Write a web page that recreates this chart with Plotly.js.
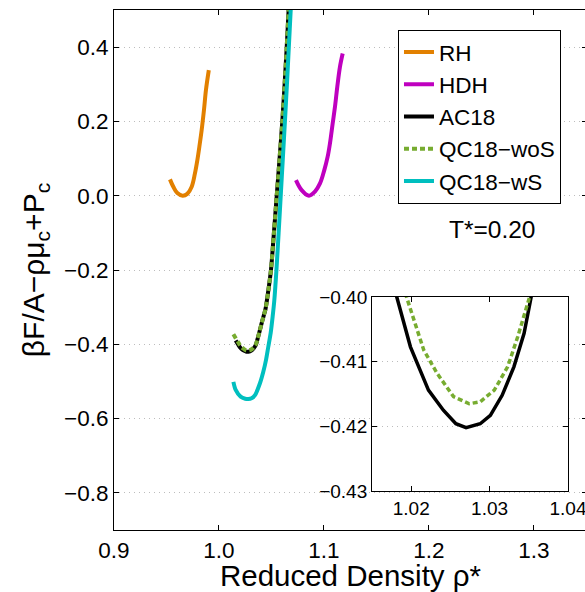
<!DOCTYPE html>
<html>
<head>
<meta charset="utf-8">
<script src="https://cdn.plot.ly/plotly-3.0.1.min.js"></script>
<style>
html,body{margin:0;padding:0;overflow:hidden;background:#fff;}
#chart{width:587px;height:592px;}
</style>
</head>
<body>
<div id="chart"></div>
<script>
// ---- data ----
var rhX = [0.9533,0.9565,0.9603,0.9654,0.9698,0.9740,0.9771,0.9794,0.9813,0.9835,0.9857,0.9876,0.9903];
var rhY = [0.044,0.024,0.007,0.000,0.005,0.024,0.060,0.096,0.132,0.177,0.231,0.285,0.338];

var hdhX = [1.0733,1.0787,1.0857,1.0914,1.0962,1.1003,1.1035,1.1057,1.1083,1.1105,1.1127,1.1152,1.1178];
var hdhY = [0.042,0.015,0.000,0.011,0.033,0.069,0.105,0.141,0.195,0.240,0.294,0.347,0.383];

var ac18X = [1.0159,1.0181,1.0199,1.0222,1.0241,1.0257,1.0270,1.0288,1.0301,1.0316,1.0331,1.0344,1.0353,1.0368,1.0385,1.0403,1.0422,1.0443,1.0470,1.0495,1.0523,1.0550,1.0577,1.0603,1.0625,1.0645,1.0663,1.0680];
var ac18Y = [-0.390,-0.400,-0.4077,-0.4144,-0.4175,-0.4196,-0.4202,-0.4196,-0.4183,-0.4152,-0.4108,-0.4056,-0.400,-0.385,-0.367,-0.347,-0.327,-0.305,-0.255,-0.200,-0.100,0.000,0.100,0.200,0.300,0.400,0.500,0.600];

var qcwoX = [1.0137,1.0160,1.0180,1.0194,1.0216,1.0233,1.0254,1.0274,1.0288,1.0306,1.0323,1.0336,1.0351,1.0368,1.0385,1.0403,1.0422,1.0443,1.0470,1.0495,1.0523,1.0550,1.0577,1.0603,1.0625,1.0645,1.0663,1.0680];
var qcwoY = [-0.373,-0.384,-0.393,-0.400,-0.4082,-0.4118,-0.4154,-0.4165,-0.4162,-0.4144,-0.4108,-0.4061,-0.400,-0.385,-0.367,-0.347,-0.327,-0.305,-0.255,-0.200,-0.100,0.000,0.100,0.200,0.300,0.400,0.500,0.600];

var qcwsX = [1.0137,1.0159,1.0206,1.0250,1.0279,1.0310,1.0343,1.0390,1.0422,1.0448,1.0470,1.0492,1.0511,1.0527,1.0547,1.0568,1.0588,1.0608,1.0628,1.0647,1.0665,1.0683,1.0700];
var qcwsY = [-0.501,-0.523,-0.541,-0.5465,-0.5474,-0.5455,-0.537,-0.505,-0.474,-0.442,-0.406,-0.370,-0.325,-0.281,-0.200,-0.100,0.000,0.100,0.200,0.300,0.400,0.500,0.600];

var seriesNames = ['RH','HDH','AC18','QC18\u2212woS','QC18\u2212wS'];
var annotationText = 'T*=0.20';

var FONT = 'Liberation Sans, Arial, Helvetica, sans-serif';
var cOrange = 'rgb(226,128,0)', cMag = 'rgb(191,0,191)', cBlack = 'rgb(0,0,0)',
    cGreen = 'rgb(119,172,48)', cCyan = 'rgb(0,191,191)';

var traces = [
  {x: rhX, y: rhY, name: seriesNames[0], mode: 'lines', line: {color: cOrange, width: 4, shape: 'spline', smoothing: 1}},
  {x: hdhX, y: hdhY, name: seriesNames[1], mode: 'lines', line: {color: cMag, width: 4, shape: 'spline', smoothing: 1}},
  {x: ac18X, y: ac18Y, name: seriesNames[2], mode: 'lines', line: {color: cBlack, width: 4, shape: 'spline', smoothing: 0.8}},
  {x: qcwoX, y: qcwoY, name: seriesNames[3], mode: 'lines', line: {color: cGreen, width: 4, dash: '5px,3px', shape: 'spline', smoothing: 0.8}},
  {x: qcwsX, y: qcwsY, name: seriesNames[4], mode: 'lines', line: {color: cCyan, width: 4, shape: 'spline', smoothing: 0.8}},
  // inset
  {x: ac18X, y: ac18Y, xaxis: 'x2', yaxis: 'y2', showlegend: false, mode: 'lines', line: {color: cBlack, width: 3.5}},
  {x: qcwoX, y: qcwoY, xaxis: 'x2', yaxis: 'y2', showlegend: false, mode: 'lines', line: {color: cGreen, width: 3.5, dash: '5px,3px'}}
];

var axisCommon = {
  showline: true, linecolor: '#000', linewidth: 1, mirror: 'ticks',
  ticks: 'inside', ticklen: 5, tickcolor: '#000', tickwidth: 1,
  zeroline: false, fixedrange: true
};
var gridStyle = {showgrid: true, gridcolor: '#bdbdbd', griddash: '1px,4px', gridwidth: 1};

var layout = {
  width: 587, height: 592,
  margin: {l: 114, r: 0, t: 10, b: 62},
  paper_bgcolor: '#fff', plot_bgcolor: '#fff',
  font: {family: FONT, color: '#000', size: 22.5},
  showlegend: true,
  legend: {
    x: 0.6004, y: 0.962, xanchor: 'left', yanchor: 'top',
    bgcolor: '#fff', bordercolor: '#000', borderwidth: 1,
    font: {family: FONT, size: 22.5, color: '#000'},
    tracegroupgap: 0
  },
  xaxis: Object.assign({}, axisCommon, {
    range: [0.9, 1.3505], tickvals: [0.9,1.0,1.1,1.2,1.3], tickformat: '.1f',
    showgrid: false, domain: [0, 1],
    tickfont: {family: FONT, size: 22.5},
    title: {text: 'Reduced Density \u03c1*', font: {family: FONT, size: 29.5}, standoff: 7}
  }),
  yaxis: Object.assign({}, axisCommon, gridStyle, {
    range: [-0.9, 0.5], tickvals: [-0.8,-0.6,-0.4,-0.2,0,0.2,0.4], tickformat: '.1f',
    domain: [0, 1],
    tickfont: {family: FONT, size: 22.5},
    title: {text: '\u03b2F/A\u2212\u03c1\u03bc<sub>c</sub>+P<sub>c</sub>', font: {family: FONT, size: 30}, standoff: 10}
  }),
  xaxis2: Object.assign({}, axisCommon, {
    anchor: 'y2', domain: [0.5455, 0.9598],
    range: [1.015, 1.04], tickvals: [1.02,1.03,1.04], tickformat: '.2f',
    showgrid: false,
    tickfont: {family: FONT, size: 19}
  }),
  yaxis2: Object.assign({}, axisCommon, gridStyle, {
    anchor: 'x2', domain: [0.075, 0.448],
    range: [-0.43, -0.40], tickvals: [-0.43,-0.42,-0.41,-0.40], tickformat: '.2f',
    tickfont: {family: FONT, size: 19}
  }),
  annotations: [{
    text: annotationText, xref: 'paper', yref: 'paper',
    x: 0.704, y: 0.578, xanchor: 'left', yanchor: 'middle',
    showarrow: false, font: {family: FONT, size: 24.5, color: '#000'}
  }]
};

Plotly.newPlot('chart', traces, layout, {displayModeBar: false, staticPlot: true});
</script>
</body>
</html>
